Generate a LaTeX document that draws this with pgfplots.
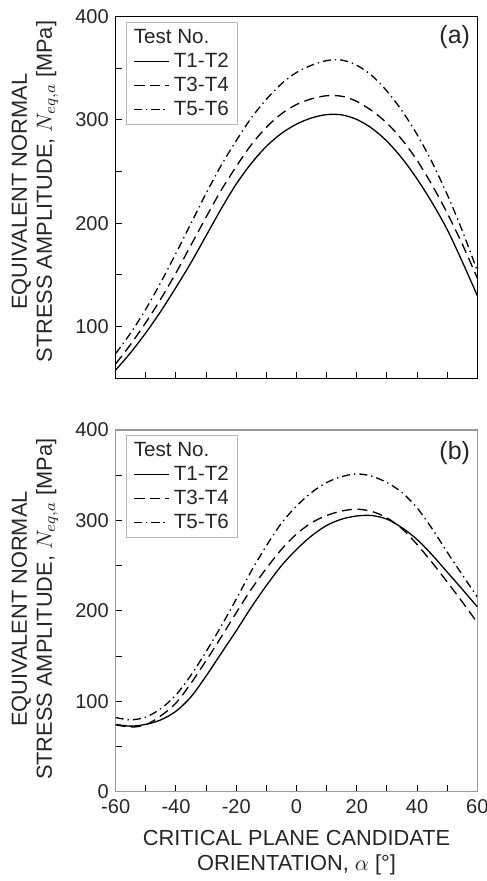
\documentclass[border=0pt]{standalone}
\usepackage{pgfplots}
\pgfplotsset{compat=1.18}
\usepackage{fontspec}
\setmainfont{Liberation Sans}

% panel (a)
\pgfplotstableread{
x    t12    t34    t56
-60  58     64     74
-55  75     83     94
-50  94     104    117
-45  115    127    143
-40  138    152    171
-35  162    179    200
-30  188    206    229
-25  214    232    256
-20  238    255    280
-15  258    276    302
-10  274.5  293    320
-5   287    306    335
0    296    315    346
5    302    320.5  353
10   305.2  323.5  357.5
15   305    323    358
20   300.5  318    353
25   292    309    343
30   279.5  297    328
35   263    281    309
40   243    261    286
45   220    237    259
50   194    210    228
55   163    180    193
60   130    147    154
}\dataA

% panel (b)
\pgfplotstableread{
x    t12    t34    t56
-60  74.5   74     82
-55  72.5   71.5   79.5
-50  74.5   74     82.5
-45  79.5   84     92
-40  89     98     107
-35  105    120    129
-30  128    145    155
-25  153    171    183
-20  178    198    213
-15  204    224    244
-10  228    247    272
-5   250    268    297
0    268    285    316
5    283    297.5  331
10   294.5  305.5  342
15   301.5  310.5  348.5
20   305    312.5  351.5
25   305.5  310    349
30   301.5  303    342
35   292    291    331
40   279    273.5  314
45   262    253.5  291
50   243    232    265
55   224    210    240
60   204.5  187    215.5
}\dataB

\pgfplotsset{
  panel/.style={
    scale only axis, width=180.8pt, height=180.8pt,
    xmin=-60, xmax=60,
    xtick={-60,-40,...,60}, minor xtick={-50,-30,...,50},
    tick pos=left, tick align=inside,
    major tick length=3.3pt, minor tick length=3.3pt,
    tick style={black, line width=0.5pt},
    tick label style={font=\fontsize{10}{12}\selectfont, text=black!85},
    xticklabel style={yshift=-0.6pt},
    /pgf/number format/assume math mode=true,
    label style={font=\fontsize{10.9}{12.5}\selectfont, align=center, text=black!85, inner sep=0pt},
    ylabel={EQUIVALENT NORMAL\\STRESS AMPLITUDE, $N_{eq,a}$ [MPa]},
    legend cell align=left,
    legend style={at={(axis description cs:0.0285,0.986)}, anchor=north west,
      draw=gray!55, line width=0.4pt, inner xsep=3.5pt, inner ysep=1.5pt,
      column sep=1.5pt,
      font=\fontsize{10.3}{12}\selectfont, text=black!85,
      nodes={inner xsep=1pt, inner ysep=1pt, text height=8pt, text depth=2pt}},
  },
  c12/.style={black, line width=0.65pt, smooth},
  c34/.style={black, line width=0.65pt, smooth, dash pattern=on 5pt off 2.8pt},
  c56/.style={black, line width=0.65pt, smooth, dash pattern=on 4pt off 2pt on 0.7pt off 2pt},
}

\begin{document}
\begin{tikzpicture}
% (b) bottom panel
\begin{axis}[panel,
    at={(0,0)},
    ymin=0, ymax=400,
    ytick={0,100,...,400}, minor ytick={50,150,...,350},
    axis line style={gray!80, line width=0.6pt},
    ylabel style={at={(axis description cs:-0.158,0.505)}, anchor=south},
    xlabel={CRITICAL PLANE CANDIDATE\\ORIENTATION, $\alpha$ [°]},
    xlabel style={at={(axis description cs:0.5,-0.106)}, anchor=north},
]
\addlegendimage{empty legend}
\addlegendentry{\hspace*{-20pt}Test No.}
\addplot[c12] table[x=x, y=t12] {\dataB};
\addlegendentry{T1-T2}
\addplot[c34] table[x=x, y=t34] {\dataB};
\addlegendentry{T3-T4}
\addplot[c56] table[x=x, y=t56] {\dataB};
\addlegendentry{T5-T6}
\node[anchor=north east, inner sep=0pt, font=\fontsize{12.5}{14}\selectfont, text=black!85]
  at (axis description cs:0.981,0.971) {(b)};
\end{axis}
% (a) top panel
\begin{axis}[panel,
    at={(0,206.7pt)},
    ymin=50, ymax=400,
    ytick={100,200,300,400}, minor ytick={150,250,350},
    xticklabels={},
    axis line style={black, line width=0.6pt},
    ylabel style={at={(axis description cs:-0.158,0.516)}, anchor=south},
]
\addlegendimage{empty legend}
\addlegendentry{\hspace*{-20pt}Test No.}
\addplot[c12] table[x=x, y=t12] {\dataA};
\addlegendentry{T1-T2}
\addplot[c34] table[x=x, y=t34] {\dataA};
\addlegendentry{T3-T4}
\addplot[c56] table[x=x, y=t56] {\dataA};
\addlegendentry{T5-T6}
\node[anchor=north east, inner sep=0pt, font=\fontsize{12.5}{14}\selectfont, text=black!85]
  at (axis description cs:0.981,0.978) {(a)};
\end{axis}
\pgfresetboundingbox
\path[use as bounding box] (-57.85pt,-44.65pt) rectangle (185.15pt,395.85pt);
\end{tikzpicture}
\end{document}
